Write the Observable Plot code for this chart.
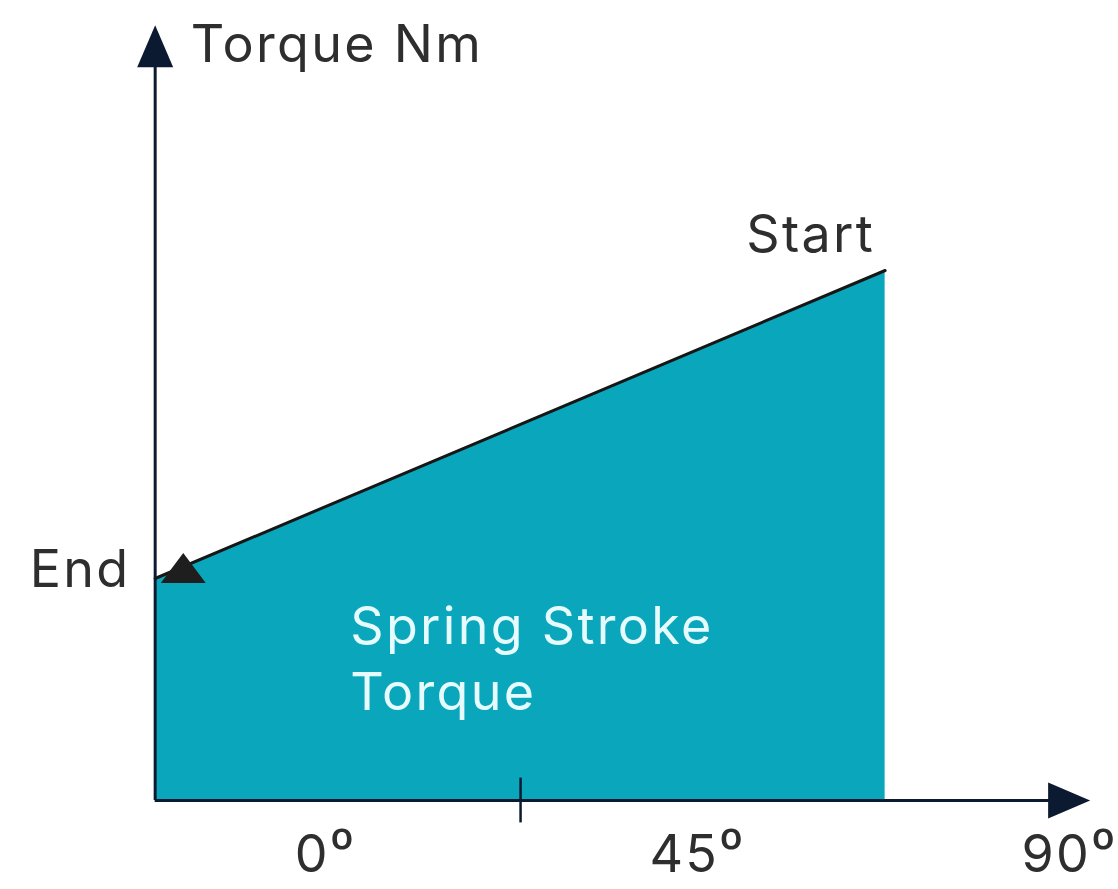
<!DOCTYPE html>
<html>
<head>
<meta charset="utf-8">
<script src="https://cdn.jsdelivr.net/npm/d3@7"></script>
<script src="https://cdn.jsdelivr.net/npm/@observablehq/plot@0.6"></script>
<style>
  html, body { margin: 0; padding: 0; background: #ffffff; }
  #chart svg { display: block; }
  #chart svg text { letter-spacing: 2.3px; }
</style>
</head>
<body>
<div id="chart"></div>
<script>
// ---- data (angle in degrees, torque in arbitrary units) ----
const angleTicks = [0, 45, 90];
const angleLabels = ["0⁰", "45⁰", "90⁰"];
const strokeAngle = [-20.6, 67.7];      // End (at axis) → Start
const strokeTorque = [27.75, 66.25];    // End torque → Start torque
const midTickAngle = [23.6];
const axisOriginAngle = -20.6;
const xAxisEndAngle = 92.5;
const yAxisEndTorque = 96.9;
const yAxisTitle = "Torque Nm";
const startLabel = "Start";
const endLabel = "End";
const areaLabel = "Spring Stroke\nTorque";

const strokeData = strokeAngle.map((a, i) => ({angle: a, torque: strokeTorque[i]}));
const tickData = angleTicks.map((a, i) => ({angle: a, label: angleLabels[i]}));

// isosceles triangle, apex at origin, pointing up
function triangle(hk, bk) {
  return {
    draw(context, size) {
      const r = Math.sqrt(size / Math.PI);
      const h = hk * r, b = bk * r;
      context.moveTo(0, 0);
      context.lineTo(-b / 2, h);
      context.lineTo(b / 2, h);
      context.closePath();
    }
  };
}
const axisHead = triangle(2.1, 1.8);
const endHead = triangle(2.0, 3.0);

const ink = "#0c1a31";
const textColor = "#2e2e2e";
const font = "Inter, Lato, sans-serif";
const fs = 52;

const chart = Plot.plot({
  width: 1118,
  height: 889,
  margin: 0,
  x: {domain: [-39.31, 95.93], axis: null},
  y: {domain: [-11.125, 100], axis: null},
  style: {background: "#ffffff", fontFamily: font},
  marks: [
    Plot.areaY(strokeData, {x: "angle", y1: 0, y2: "torque", fill: "#0aa7bc"}),
    Plot.line(strokeData, {x: "angle", y: "torque", stroke: "#161616", strokeWidth: 3}),
    // axes
    Plot.ruleX([axisOriginAngle], {y1: 0, y2: yAxisEndTorque - 4, stroke: ink, strokeWidth: 3}),
    Plot.ruleY([0], {x1: axisOriginAngle, x2: xAxisEndAngle - 4, stroke: ink, strokeWidth: 3}),
    Plot.ruleX(midTickAngle, {y1: -2.8, y2: 2.8, stroke: ink, strokeWidth: 2.5}),
    // arrow heads
    Plot.dot([{angle: axisOriginAngle, torque: yAxisEndTorque}], {x: "angle", y: "torque", r: 20, symbol: axisHead, fill: ink, stroke: "none"}),
    Plot.dot([{angle: xAxisEndAngle, torque: 0}], {x: "angle", y: "torque", r: 20, symbol: axisHead, fill: ink, stroke: "none", rotate: 90}),
    Plot.dot([{angle: strokeAngle[0] + 3.4, torque: strokeTorque[0] + 3.2}], {x: "angle", y: "torque", r: 15, symbol: endHead, fill: "#1e1e1e", stroke: "none"}),
    // texts
    Plot.text([yAxisTitle], {x: -16.3, y: 94.4, text: d => d, textAnchor: "start", fontSize: fs, fill: textColor}),
    Plot.text([startLabel], {x: 58.7, y: 70.6, text: d => d, fontSize: fs, fill: textColor}),
    Plot.text([endLabel], {x: -23.6, y: 28.75, text: d => d, textAnchor: "end", fontSize: fs, fill: textColor}),
    Plot.text([areaLabel], {x: 3.0, y: 18.1, text: d => d, textAnchor: "start", fontSize: fs, lineHeight: 1.27, fill: "#e6fbfd"}),
    Plot.text(tickData, {x: "angle", y: -6.9, text: "label", fontSize: fs, fill: textColor})
  ]
});
document.getElementById("chart").appendChild(chart);
</script>
</body>
</html>
